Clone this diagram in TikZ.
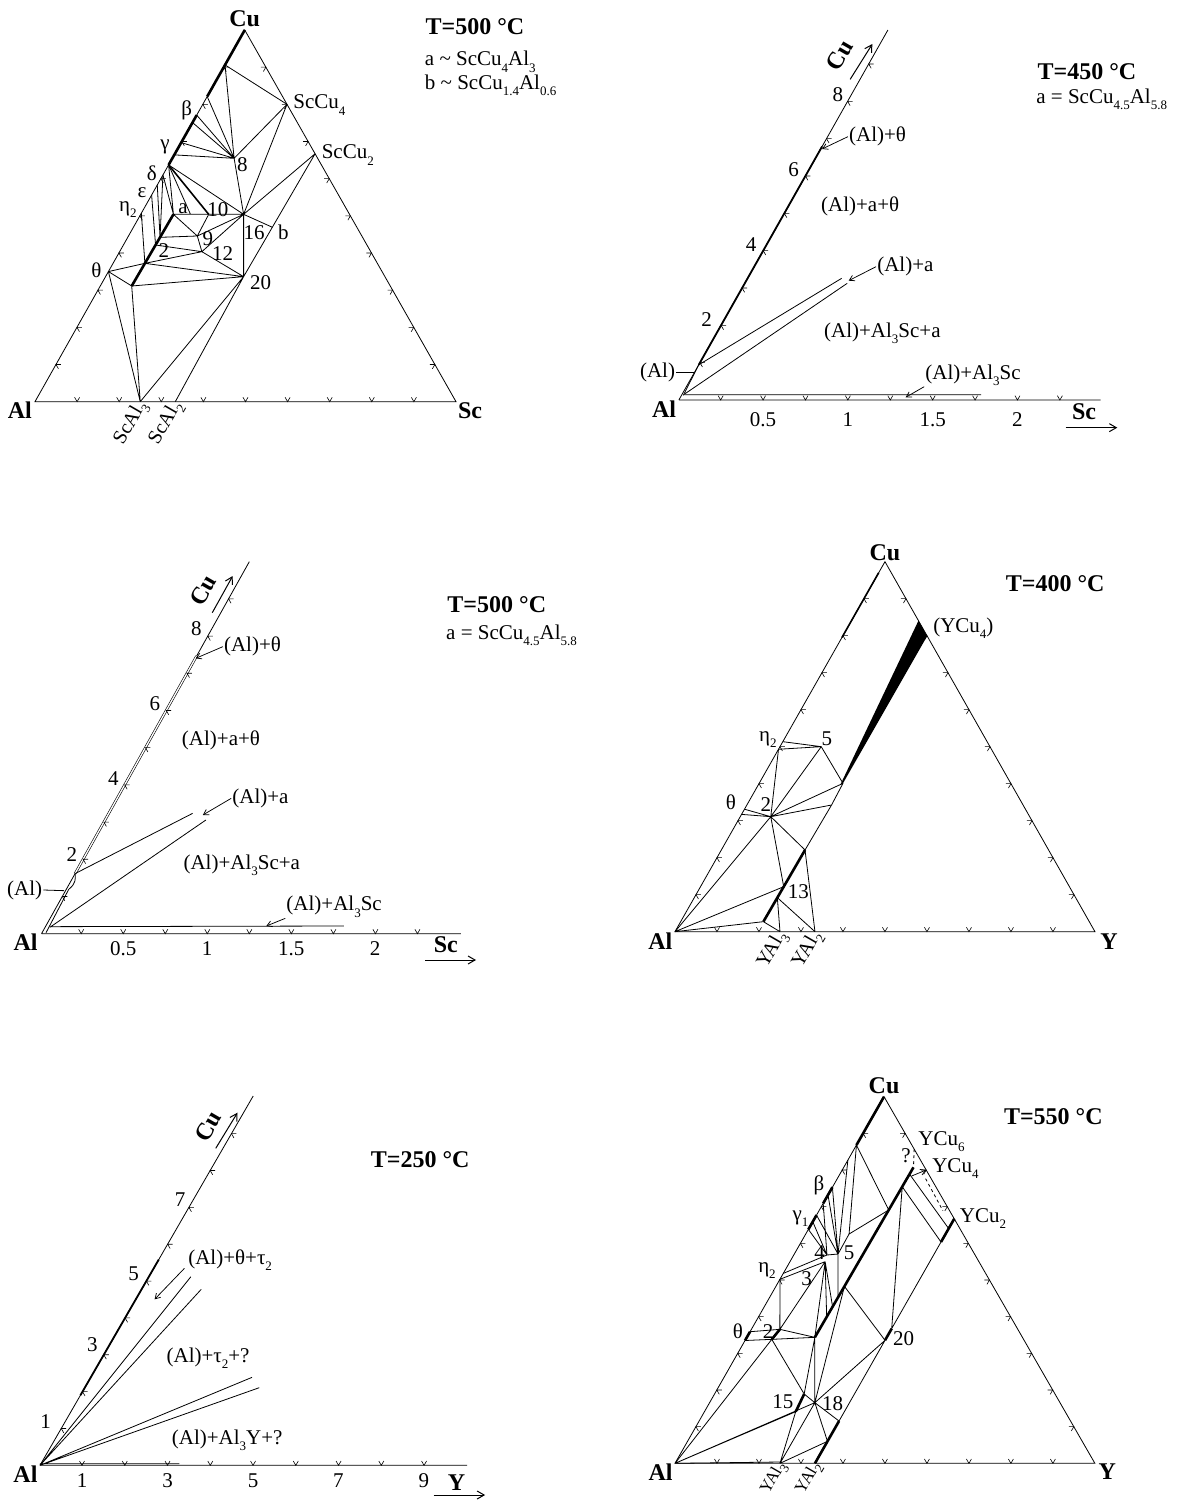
\documentclass[tikz,border=0pt]{standalone}
\usepackage{fontspec}
\setmainfont{Liberation Serif}
\usetikzlibrary{calc,arrows.meta}
\newcommand\sbs[1]{\raisebox{-0.3em}{\fontsize{13}{13}\selectfont #1}}
\newcommand\tkat[3]{\draw[tk] #1 +(#2:5pt) -- #1 -- +(#3:5pt);}
\newcommand\ternticks[3]{%
  \foreach \k in {1,...,9}{%
    \tkat{($(#1)!\k/10!(#2)$)}{60}{120}%
    \tkat{($(#1)!\k/10!(#3)$)}{0}{-60}%
    \tkat{($(#2)!\k/10!(#3)$)}{180}{240}%
  }}
\begin{document}
\begin{tikzpicture}[x=1pt,y=-1pt,
  ln/.style={line width=0.8pt},
  thk/.style={line width=2.6pt},
  mthk/.style={line width=1.6pt},
  tk/.style={line width=0.6pt},
  lab/.style={font=\fontsize{21}{22}\selectfont,inner sep=1pt},
  rlab/.style={font=\fontsize{20}{21}\selectfont,inner sep=0.5pt,rotate=60,anchor=east},
  rlabs/.style={font=\fontsize{17}{18}\selectfont,inner sep=0.5pt,rotate=60,anchor=east},
  blab/.style={font=\fontsize{24}{26}\selectfont\bfseries,inner sep=1pt},
  arr/.style={line width=0.75pt,-{Straight Barb[length=5pt,width=6pt]}},
  axarr/.style={line width=1pt,-{Straight Barb[length=7pt,width=8pt]}},
  ]
\fill[white] (0,0) rectangle (1185,1501);
\useasboundingbox (0,0) rectangle (1185,1501);

%================ PANEL 1 : Al-Cu-Sc 500 C =================
\begin{scope}[shift={(0.865pt,0pt)},x={(0.37928pt,0pt)},y={(0pt,-0.33333pt)}]
\coordinate (A1) at (90,1205);
\coordinate (S1) at (1200,1205);
\coordinate (C1) at (643,90);
\draw[ln] (A1) -- (S1) -- (C1) -- cycle;
\ternticks{A1}{S1}{C1}
\foreach \n/\v in {L1/0.906,L2/0.821,Lb/0.771,Lbb/0.751,Lg0/0.697,Lg/0.664,Ld/0.637,Le1/0.610,Le2/0.583,Le3/0.556,Ln/0.507,Lt/0.350}
  \coordinate (a\n) at ($(A1)!\v!(C1)$);
\coordinate (aS4) at ($(S1)!0.8!(C1)$);
\coordinate (aS2) at ($(S1)!0.667!(C1)$);
\coordinate (aSA3) at ($(A1)!0.25!(S1)$);
\coordinate (aSA2) at ($(A1)!0.3333!(S1)$);
\coordinate (a8) at (615,475);
\coordinate (aa) at (455,643);
\coordinate (a10) at (548,643);
\coordinate (a16) at (640,643);
\coordinate (a9) at (518,708);
\coordinate (a12) at (530,755);
\coordinate (a20) at (640,830);
\coordinate (abot) at (345,858);
\coordinate (ab) at ($(aS2)!0.598!(a20)$);
\coordinate (a2a) at ($(aa)!0.321!(abot)$);
\coordinate (a2c) at ($(aa)!0.428!(abot)$);
\coordinate (a2b) at ($(aa)!0.684!(abot)$);
\coordinate (afan) at (500,643);
\draw[thk] (C1) -- (aL2) (aLb) -- (aLd) (aa) -- (abot);
\draw[mthk] (aLd) -- (a10);
\draw[ln] (aL1) -- (aS4) (aL1) -- (a8) (aS4) -- (a8) (aS4) -- (a16) (aL2) -- (a8)
  (aLb) -- (a8) (aLbb) -- (a8) (aLg0) -- (a8) (aLg) -- (a8) (a8) -- (a16)
  (aS2) -- (a16) (aS2) -- (a20) (a16) -- (ab) (a16) -- (a20) (aLd) -- (a16)
  (aLd) -- (aa) (aLd) -- (afan) (aLe1) -- (aa) (aLe1) -- (a2a) (aLe2) -- (a2a)
  (aLe3) -- (a2c) (aLn) -- (a2b) (aa) -- (a16) (a10) -- (a9) (aa) -- (a9)
  (a9) -- (a16) (a12) -- (a16) (a2a) -- (a9) (a9) -- (a12) (a2c) -- (a12)
  (a2b) -- (a12) (a12) -- (a20) (a2b) -- (a20) (aLt) -- (a2b) (aLt) -- (abot)
  (abot) -- (a20) (aLt) -- (aSA3) (abot) -- (aSA3) (a20) -- (aSA3) (a20) -- (aSA2);
\node[blab] (aCu) at (643,55) {Cu};
\node[blab] (aAl) at (50,1232) {Al};
\node[blab] (aSc) at (1237,1232) {Sc};
\node[blab] (aT) at (1250,80) {T=500 °C};
\node[lab,anchor=west] (aK1) at (1115,185) {a \textasciitilde{} ScCu\sbs{4}Al\sbs{3}};
\node[lab,anchor=west] (aK2) at (1115,255) {b \textasciitilde{} ScCu\sbs{1.4}Al\sbs{0.6}};
\node[lab,anchor=west] (aLS4) at (768,315) {ScCu\sbs{4}};
\node[lab,anchor=west] (aLS2) at (843,465) {ScCu\sbs{2}};
\node[lab] (alb) at (490,330) {β};
\node[lab] (alg) at (433,440) {γ};
\node[lab] (ald) at (398,520) {δ};
\node[lab] (ale) at (372,578) {ε};
\node[lab] (aln) at (335,628) {η\sbs{2}};
\node[lab] (alt) at (252,810) {θ};
\node[lab] (ala) at (480,625) {a};
\node[lab] (al10) at (572,628) {10};
\node[lab] (al8) at (637,495) {8};
\node[lab] (al16) at (668,697) {16};
\node[lab] (alb2) at (745,697) {b};
\node[lab] (al9) at (546,716) {9};
\node[lab] (al12) at (585,762) {12};
\node[lab] (al2) at (430,752) {2};
\node[lab] (al20) at (685,847) {20};
\node[rlab] (alSA3) at ($(aSA3)+(3pt,-1pt)$) {ScAl\sbs{3}};
\node[rlab] (alSA2) at ($(aSA2)+(3pt,-1pt)$) {ScAl\sbs{2}};
\end{scope}

%================ PANEL 2 : 450 C corner =================
\begin{scope}[shift={(603pt,0pt)},x={(0.37pt,0pt)},y={(0pt,-0.33333pt)}]
\coordinate (bA) at (205,1200);
\coordinate (bCe) at (770,90);
\coordinate (bXe) at (1345,1200);
\draw[ln] (bA) -- (bCe) (bA) -- (bXe);
\draw[line width=1.8pt] ($(bA)!0.095!(bCe)$) -- ($(bA)!0.685!(bCe)$);
\foreach \k in {1,...,9}{%
  \tkat{($(bA)!\k*0.1009!(bCe)$)}{0}{-60}%
  \tkat{(318+114.6*\k-114.6,1200)}{60}{120}%
}
\coordinate (bs1) at (217,1186);
\coordinate (bs2) at ($(bA)!0.095!(bCe)$);
\coordinate (bu) at (645,835);
\coordinate (bl1) at (222,1181);
\coordinate (bl2) at (660,850);
\coordinate (bh1) at (220,1184);
\coordinate (bh2) at (1022,1184);
\draw[ln] (bs1) -- (bs2) (bs2) -- (bu) (bl1) -- (bl2) (bh1) -- (bh2);
\node[lab,anchor=west] (b1) at (662,410) {(Al)+θ};
\coordinate (b1t) at (592,447);
\draw[arr] (b1.west) -- (b1t);
\node[lab] (b2) at (695,620) {(Al)+a+θ};
\node[lab,anchor=west] (b3) at (738,800) {(Al)+a};
\coordinate (b3t) at (664,842);
\draw[arr] (b3.west) -- (b3t);
\node[lab] (b4) at (755,1000) {(Al)+Al\sbs{3}Sc+a};
\node[lab,anchor=west] (b5) at (868,1125) {(Al)+Al\sbs{3}Sc};
\coordinate (b5t) at (818,1192);
\draw[arr] (b5.south west) -- (b5t);
\node[lab,anchor=east] (b6) at (198,1118) {(Al)};
\coordinate (b6t) at (247,1118);
\draw[ln] (b6.east) -- (b6t);
\node[lab] (bn2) at (280,960) {2};
\node[lab] (bn4) at (400,735) {4};
\node[lab] (bn6) at (515,510) {6};
\node[lab] (bn8) at (635,285) {8};
\node[lab] (bx1) at (432.6,1258) {0.5};
\node[lab] (bx2) at (661.8,1258) {1};
\node[lab] (bx3) at (891,1258) {1.5};
\node[lab] (bx4) at (1120.2,1258) {2};
\node[blab,rotate=60] (bcu) at (640,165) {Cu};
\coordinate (bc1) at (668,238); \coordinate (bc2) at (728,132);
\draw[axarr] (bc1) -- (bc2);
\node[blab] (bsc) at (1300,1236) {Sc};
\coordinate (bsa1) at (1250,1283); \coordinate (bsa2) at (1390,1283);
\draw[axarr] (bsa1) -- (bsa2);
\node[blab] (bal) at (165,1228) {Al};
\node[blab] (bT) at (1308,215) {T=450 °C};
\node[lab,anchor=west] (bK) at (1168,298) {a = ScCu\sbs{4.5}Al\sbs{5.8}};
\end{scope}

%================ PANEL 3 : 500 C corner =================
\begin{scope}[shift={(3.75pt,-520pt)},x={(0.3778pt,0pt)},y={(0pt,-0.33333pt)}]
\coordinate (cA) at (100,1241);
\coordinate (cCe) at (650,125);
\coordinate (cXe) at (1210,1241);
\draw[ln] (cA) -- (cCe) (cA) -- (cXe);
\coordinate (cj) at ($(cA)!0.1614!(cCe)$);
\draw[line width=0.6pt,double,double distance=1.3pt] (cj) -- ($(cA)!0.746!(cCe)$);
\foreach \k in {1,...,9}{%
  \tkat{($(cA)!\k/10!(cCe)$)}{0}{-60}%
  \tkat{(205+111.25*\k-111.25,1241)}{60}{120}%
}
\coordinate (cs0) at (112,1238);
\coordinate (cs1) at (172,1108);
\draw[ln] (cs0) -- (cs1) .. controls (192,1090) and (190,1075) .. (cj);
\coordinate (cu) at (500,880);
\coordinate (cl1) at (122,1222);
\coordinate (cl2) at (535,900);
\coordinate (ch1) at (125,1220);
\coordinate (ch2) at (900,1218);
\draw[ln] (cj) -- (cu) (cl1) -- (cl2) (ch1) -- (ch2);
\node[lab,anchor=west] (c1) at (580,380) {(Al)+θ};
\coordinate (c1t) at (508,415);
\draw[arr] (c1.west) -- (c1t);
\node[lab] (c2) at (575,660) {(Al)+a+θ};
\node[lab,anchor=west] (c3) at (602,835) {(Al)+a};
\coordinate (c3t) at (527,885);
\draw[arr] (c3.west) -- (c3t);
\node[lab] (c4) at (630,1035) {(Al)+Al\sbs{3}Sc+a};
\node[lab,anchor=west] (c5) at (745,1160) {(Al)+Al\sbs{3}Sc};
\coordinate (c5t) at (695,1218);
\draw[arr] (c5.south west) -- (c5t);
\node[lab,anchor=east] (c6) at (105,1110) {(Al)};
\coordinate (c6t) at (160,1112);
\draw[ln] (c6.east) -- (c6t);
\node[lab] (cn2) at (180,1005) {2};
\node[lab] (cn4) at (290,775) {4};
\node[lab] (cn6) at (400,550) {6};
\node[lab] (cn8) at (510,325) {8};
\node[lab] (cx1) at (316,1285) {0.5};
\node[lab] (cx2) at (538,1285) {1};
\node[lab] (cx3) at (761,1285) {1.5};
\node[lab] (cx4) at (983,1285) {2};
\node[blab,rotate=60] (ccu) at (528,210) {Cu};
\coordinate (cc1) at (552,278); \coordinate (cc2) at (606,168);
\draw[axarr] (cc1) -- (cc2);
\node[blab] (csc) at (1170,1275) {Sc};
\coordinate (csa1) at (1115,1320); \coordinate (csa2) at (1250,1320);
\draw[axarr] (csa1) -- (csa2);
\node[blab] (cal) at (58,1268) {Al};
\node[blab] (cT) at (1305,255) {T=500 °C};
\node[lab,anchor=west] (cK) at (1168,345) {a = ScCu\sbs{4.5}Al\sbs{5.8}};
\end{scope}

%================ PANEL 4 : Al-Cu-Y 400 C =================
\begin{scope}[shift={(601.3pt,-550pt)},x={(0.3684pt,0pt)},y={(0pt,-0.33333pt)}]
\coordinate (dA) at (200,1145);
\coordinate (dY) at (1340,1145);
\coordinate (dC) at (770,35);
\draw[ln] (dA) -- (dY) -- (dC) -- cycle;
\ternticks{dA}{dY}{dC}
\coordinate (dGth) at ($(dA)!0.795!(dC)$);
\coordinate (dGtop) at ($(dA)!0.97!(dC)$);
\coordinate (dGn1) at ($(dA)!0.5135!(dC)$);
\coordinate (dGn2) at ($(dA)!0.493!(dC)$);
\coordinate (dGt1) at ($(dA)!0.331!(dC)$);
\coordinate (dGt2) at ($(dA)!0.317!(dC)$);
\coordinate (dW1) at ($(dY)!0.8405!(dC)$);
\coordinate (dW2) at ($(dY)!0.799!(dC)$);
\coordinate (dW3) at (656,700);
\coordinate (dW3b) at (649,704);
\coordinate (dW4) at (625,765);
\coordinate (d5) at (597,590);
\coordinate (d2) at (460,800);
\coordinate (dBt) at (553,900);
\coordinate (dBb) at (440,1115);
\coordinate (d13) at ($(dBb)!0.488!(dBt)$);
\coordinate (d13b) at ($(dBb)!0.335!(dBt)$);
\coordinate (dYA3) at ($(dA)!0.25!(dY)$);
\coordinate (dYA2) at ($(dA)!0.3333!(dY)$);
\fill (dW3b) -- (dW1) -- (dW2) -- (dW3) -- cycle;
\draw[mthk] (dGtop) -- (dGth);
\draw[thk] (dBb) -- (dBt);
\draw[ln] (dGn1) -- (d5) (dGn2) -- (d5) (dGn2) -- (d2) (d5) -- (d2) (d5) -- (dW3)
  (dGt1) -- (d2) (dGt2) -- (d2) (d2) -- (dW3) (d2) -- (dW4) (d2) -- (dA)
  (d2) -- (dBt) (d2) -- (d13) (dW4) -- (dW3) (dW4) -- (dBt) (d13) -- (dA)
  (dBb) -- (dA) (dBb) -- (dYA3) (d13b) -- (dYA3) (d13b) -- (dYA2) (dBt) -- (dYA2);
\node[blab] (dCu) at (770,8) {Cu};
\node[blab] (dAl) at (160,1175) {Al};
\node[blab] (dYl) at (1378,1175) {Y};
\node[blab] (dT) at (1232,100) {T=400 °C};
\node[lab,anchor=west] (dYC) at (898,235) {(YCu\sbs{4})};
\node[lab] (dln) at (452,568) {η\sbs{2}};
\node[lab] (dl5) at (612,565) {5};
\node[lab] (dlt) at (352,758) {θ};
\node[lab] (dl2) at (447,765) {2};
\node[lab] (dl13) at (535,1025) {13};
\node[rlab] (dlA3) at ($(dYA3)+(3pt,-1pt)$) {YAl\sbs{3}};
\node[rlab] (dlA2) at ($(dYA2)+(3pt,-1pt)$) {YAl\sbs{2}};
\end{scope}

%================ PANEL 5 : 250 C corner =================
\begin{scope}[shift={(1.76pt,-1060pt)},x={(0.3821pt,0pt)},y={(0pt,-0.33333pt)}]
\coordinate (eA) at (100,1216);
\coordinate (eCe) at (658,108);
\coordinate (eXe) at (1218,1216);
\draw[ln] (eA) -- (eCe) (eA) -- (eXe);
\draw[line width=1.8pt] ($(eA)!0.19!(eCe)$) -- ($(eA)!0.557!(eCe)$);
\foreach \k in {1,...,9}{%
  \tkat{($(eA)!\k*0.0998!(eCe)$)}{0}{-60}%
  \tkat{(210+111.9*\k-111.9,1216)}{60}{120}%
}
\coordinate (ef1) at (495,650);
\coordinate (ef2) at (522,688);
\coordinate (ef3) at (655,952);
\coordinate (ef4) at (674,983);
\coordinate (eb1) at (100,1211);
\coordinate (eb2) at (465,1211);
\draw[ln] (eA) -- (ef1) (eA) -- (ef2) (eA) -- (ef3) (eA) -- (ef4) (eb1) -- (eb2);
\node[lab,anchor=west] (e1) at (485,600) {(Al)+θ+τ\sbs{2}};
\coordinate (e1s) at (478,625); \coordinate (e1t) at (400,718);
\draw[arr] (e1s) -- (e1t);
\node[lab] (e2) at (540,895) {(Al)+τ\sbs{2}+?};
\node[lab] (e3) at (590,1140) {(Al)+Al\sbs{3}Y+?};
\node[lab] (en1) at (115,1085) {1};
\node[lab] (en3) at (237,855) {3};
\node[lab] (en5) at (345,640) {5};
\node[lab] (en7) at (467,420) {7};
\node[lab] (ex1) at (210,1262) {1};
\node[lab] (ex3) at (434,1262) {3};
\node[lab] (ex5) at (658,1262) {5};
\node[lab] (ex7) at (881,1262) {7};
\node[lab] (ex9) at (1105,1262) {9};
\node[blab,rotate=60] (ecu) at (540,200) {Cu};
\coordinate (ec1) at (560,265); \coordinate (ec2) at (617,158);
\draw[axarr] (ec1) -- (ec2);
\node[blab] (eyl) at (1190,1268) {Y};
\coordinate (eya1) at (1130,1305); \coordinate (eya2) at (1265,1305);
\draw[axarr] (eya1) -- (eya2);
\node[blab] (eal) at (62,1243) {Al};
\node[blab] (eT) at (1095,300) {T=250 °C};
\end{scope}

%================ PANEL 6 : Al-Cu-Y 550 C =================
\begin{scope}[shift={(602.5pt,-1080pt)},x={(0.368pt,0pt)},y={(0pt,-0.33333pt)}]
\coordinate (fA) at (197,1150);
\coordinate (fY) at (1338,1150);
\coordinate (fC) at (765,50);
\draw[ln] (fA) -- (fY) -- (fC) -- cycle;
\ternticks{fA}{fY}{fC}
\foreach \n/\v in {E1/0.868,E2/0.827,Eb/0.753,Eb2/0.732,Eb3/0.709,Eg/0.677,Eg2/0.659,Eg3/0.638,En1/0.518,En2/0.502,Et1/0.359,Et2/0.335}
  \coordinate (f\n) at ($(fA)!\v!(fC)$);
\coordinate (fYA3) at ($(fA)!0.25!(fY)$);
\coordinate (fYA2) at ($(fA)!0.3333!(fY)$);
\coordinate (fYC2) at ($(fY)!0.667!(fC)$);
\coordinate (fYC4) at ($(fY)!0.8!(fC)$);
\coordinate (fYC6) at ($(fY)!0.857!(fC)$);
\coordinate (fR0) at ($(fYA2)!0.09!(fYC2)$);
\coordinate (fR1) at ($(fYA2)!0.173!(fYC2)$);
\coordinate (f20) at ($(fYA2)!0.503!(fYC2)$);
\coordinate (fR20b) at ($(fYA2)!0.551!(fYC2)$);
\coordinate (fR2) at ($(fYA2)!0.905!(fYC2)$);
\coordinate (fR3) at ($(fYA2)!0.96!(fYC2)$);
\coordinate (fB) at (577,772);
\coordinate (fT) at (845,262);
\foreach \n/\s in {Q20/0.30,Q390/0.749,Qf1/0.12,Qf2/0.18,Q5/0.235,Qtop/0.886,Qhi/0.96}
  \coordinate (f\n) at ($(fB)!\s!(fT)$);
\coordinate (f4) at (610,525);
\coordinate (f5) at (640,522);
\coordinate (f3) at (605,545);
\coordinate (fF) at (670,462);
\coordinate (f2a) at (482,748);
\coordinate (f2b) at (460,778);
\coordinate (f15t) at (548,942);
\coordinate (f15b) at (525,995);
\coordinate (f18) at (577,968);
\coordinate (fYA3u) at (482,1146);
\coordinate (fd1) at (878,296);
\coordinate (fd2) at (925,392);
\coordinate (fk) at (840,288);
\draw[thk] (fC) -- (fE1) (fEb) -- (fEb3) (fEg) -- (fEg3) (fEt1) -- (fEt2) (f2a) -- (f2b)
  (fB) -- (fT) (f15t) -- (f15b) (fYA2) -- (fR1) (f20) -- (fR20b) (fR2) -- (fYC2);
\draw[ln] (fYA2) -- (fYC2)
  (fE1) -- (fQ390) (fE1) -- (fF) (fE2) -- (f5) (fF) -- (fQ390) (fF) -- (f5)
  (fEb) -- (f5) (fEb2) -- (f5) (fEb3) -- (f4) (fEg) -- (f5) (fEg2) -- (f4) (fEg3) -- (f4)
  (f4) -- (f5) (fEn1) -- (f4) (fEn2) -- (f3) (fEn2) -- (f2a)
  (f3) -- (fB) (f3) -- (fQf1) (f3) -- (fQf2) (f5) -- (fQ5) (f3) -- (f2a)
  (fEt1) -- (f2a) (fEt2) -- (f2b) (f2a) -- (fB) (f2b) -- (fB)
  (fA) -- (f2b) (f2b) -- (f15t) (fB) -- (f18) (fB) -- (f15t)
  (fA) -- (f15b) (fA) -- (f18) (fA) -- (fYA3u)
  (f15b) -- (fYA3) (f15t) -- (f18)
  (f18) -- (fYA3) (f18) -- (fR0) (f18) -- (fR1) (f18) -- (f20) (f18) -- (fQ20) (fYA3) -- (fR0)
  (fQ20) -- (f20) (fQtop) -- (fR20b) (fQtop) -- (fR2) (fQhi) -- (fR3);
\draw[ln,dashed] (fd1) -- (fd2) (fYC6) -- (fT);
\draw[arr] (fk) -- (fYC4);
\node[blab] (fCu) at (765,18) {Cu};
\node[blab] (fAl) at (158,1175) {Al};
\node[blab] (fYl) at (1372,1175) {Y};
\node[blab] (fTT) at (1225,110) {T=550 °C};
\node[lab,anchor=west] (flY6) at (855,185) {YCu\sbs{6}};
\node[lab] (flq) at (825,228) {?};
\node[lab,anchor=west] (flY4) at (893,265) {YCu\sbs{4}};
\node[lab,anchor=west] (flY2) at (968,415) {YCu\sbs{2}};
\node[lab] (flb) at (588,315) {β};
\node[lab] (flg) at (538,415) {γ\sbs{1}};
\node[lab] (fln) at (447,572) {η\sbs{2}};
\node[lab] (fl4) at (590,518) {4};
\node[lab] (fl5) at (670,518) {5};
\node[lab] (fl3) at (555,597) {3};
\node[lab] (flt) at (368,755) {θ};
\node[lab] (fl2) at (450,755) {2};
\node[lab] (fl15) at (490,965) {15};
\node[lab] (fl18) at (625,970) {18};
\node[lab] (fl20) at (818,775) {20};
\node[rlabs] (flA3) at ($(fYA3)+(3pt,0pt)$) {YAl\sbs{3}};
\node[rlabs] (flA2) at ($(fYA2)+(3pt,0pt)$) {YAl\sbs{2}};
\end{scope}
\end{tikzpicture}
\end{document}
